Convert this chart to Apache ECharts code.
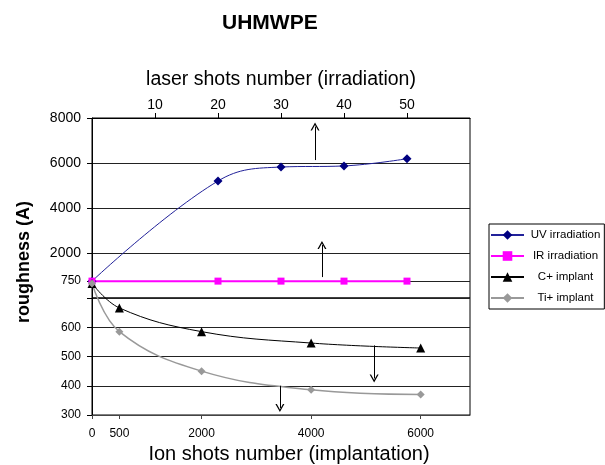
<!DOCTYPE html>
<html><head><meta charset="utf-8">
<script src="https://cdn.jsdelivr.net/npm/echarts@6/dist/echarts.min.js"></script>
<style>html,body{margin:0;padding:0;background:#fff}#c{width:605px;height:465px}</style>
</head><body><div id="c"></div>
<script>
const chartTitle = 'UHMWPE';
const seriesNames = ['UV irradiation', 'IR irradiation', 'C+ implant', 'Ti+ implant'];
const laserShots = [0, 20, 30, 40, 50];
const uvRoughness = [750, 5200, 5820, 5870, 6190];
const irRoughness = [750, 750, 750, 750, 750];
const ionShots = [0, 500, 2000, 4000, 6000];
const cRoughness = [750, 666, 585, 546, 529];
const tiRoughness = [750, 585, 450, 386, 370];
const laserTicks = [10, 20, 30, 40, 50];
const upperYTicks = [750, 2000, 4000, 6000, 8000];
const lowerYTicks = [300, 400, 500, 600];
const ionTicks = [0, 500, 2000, 4000, 6000];
// arrow annotations in data coordinates [start, end]
const uvArrow = [[35.4, 6130], [35.4, 7620]];
const irArrow = [[36.5, 930], [36.5, 2355]];
const cArrow = [[5150, 538], [5150, 425]];
const tiArrow = [[3430, 400], [3430, 324]];

const FONT = '"Liberation Sans", Arial, sans-serif';
const zip = (xs, ys) => xs.map((x, i) => [x, ys[i]]);
const arrowPath = 'path://M0,0 L5,10 L3.4,10 L0,3 L-3.4,10 L-5,10 Z';
function arrow(a) {
  return {
    silent: true, animation: false,
    symbol: ['none', arrowPath], symbolSize: [9, 8],
    label: {show: false},
    lineStyle: {color: '#000', width: 1, type: 'solid'},
    emphasis: {disabled: true},
    data: [[{coord: a[0]}, {coord: a[1]}]]
  };
}
const black = {color: '#000'};
const chart = echarts.init(document.getElementById('c'));
chart.setOption({
  animation: false,
  backgroundColor: '#fff',
  textStyle: {fontFamily: FONT, color: '#000'},
  title: {text: chartTitle, left: 222, top: 13, padding: 0,
    textStyle: {fontSize: 21, fontWeight: 'bold', color: '#000', fontFamily: FONT}},
  graphic: [{type: 'text', x: 24, y: 262, rotation: Math.PI / 2,
    style: {text: 'roughness (A)', font: 'bold 18px ' + FONT, fill: '#000', textAlign: 'center', textVerticalAlign: 'middle'}}],
  legend: {
    data: seriesNames, orient: 'vertical', left: 489, top: 224,
    itemWidth: 33, itemHeight: 12, itemGap: 9, padding: [5, 4, 5, 1],
    borderColor: '#000', borderWidth: 1,
    formatter: n => '{a|' + n + '}',
    textStyle: {rich: {a: {width: 73, align: 'center', fontSize: 11.5, color: '#000', fontFamily: FONT}}}
  },
  grid: [
    {left: 92, top: 118, width: 378, height: 180, show: true, borderColor: '#000', borderWidth: 1},
    {left: 92, top: 298, width: 378, height: 117, show: true, borderColor: '#000', borderWidth: 1}
  ],
  xAxis: [
    {gridIndex: 0, type: 'value', position: 'top', min: 0, max: 60, interval: 10,
      name: 'laser shots number (irradiation)', nameLocation: 'middle', nameGap: 28,
      nameTextStyle: {fontSize: 19.5, color: '#000', fontFamily: FONT},
      axisLine: {show: true, onZero: false, lineStyle: black},
      axisTick: {show: true, length: 5, customValues: laserTicks, lineStyle: black},
      axisLabel: {customValues: laserTicks, fontSize: 14, color: '#000', margin: 6},
      splitLine: {show: false}},
    {gridIndex: 1, type: 'value', position: 'bottom', min: 0, max: 6900,
      name: 'Ion shots number (implantation)', nameLocation: 'middle', nameGap: 29,
      nameTextStyle: {fontSize: 20, color: '#000', fontFamily: FONT, padding: [0, 0, 0, 16]},
      axisLine: {show: true, onZero: false, lineStyle: {color: '#444'}},
      axisTick: {show: true, length: 4, customValues: ionTicks, lineStyle: {color: '#444'}},
      axisLabel: {customValues: ionTicks, fontSize: 12, color: '#000', margin: 13,
        formatter: v => String(v)},
      splitLine: {show: false}}
  ],
  yAxis: [
    {gridIndex: 0, type: 'value', min: 0, max: 8000, interval: 2000,
      axisLine: {show: true, onZero: false, lineStyle: black},
      axisTick: {show: true, length: 5, customValues: upperYTicks, lineStyle: black},
      axisLabel: {customValues: upperYTicks, margin: 11,
        formatter: v => v === 750 ? '{s|750}' : '{b|' + v + '}',
        rich: {s: {fontSize: 12, color: '#000'}, b: {fontSize: 14, color: '#000'}}},
      splitLine: {show: true, lineStyle: {color: '#222', width: 1}}},
    {gridIndex: 1, type: 'value', min: 300, max: 700, interval: 100,
      axisLine: {show: true, onZero: false, lineStyle: black},
      axisTick: {show: true, length: 5, lineStyle: black},
      axisLabel: {fontSize: 12, color: '#000', margin: 11,
        formatter: v => lowerYTicks.includes(v) ? String(v) : ''},
      splitLine: {show: true, lineStyle: {color: '#222', width: 1}}}
  ],
  series: [
    {name: seriesNames[0], type: 'line', xAxisIndex: 0, yAxisIndex: 0,
      data: zip(laserShots, uvRoughness), smooth: 0.4,
      symbol: 'diamond', symbolSize: 9, itemStyle: {color: '#000080'},
      lineStyle: {width: 1, color: '#22229a'}, markLine: arrow(uvArrow)},
    {name: seriesNames[1], type: 'line', xAxisIndex: 0, yAxisIndex: 0,
      data: zip(laserShots, irRoughness),
      symbol: 'rect', symbolSize: 7, itemStyle: {color: '#ff00ff'},
      lineStyle: {width: 2, color: '#ff00ff'}, markLine: arrow(irArrow)},
    {name: seriesNames[2], type: 'line', xAxisIndex: 1, yAxisIndex: 1, clip: false,
      data: zip(ionShots, cRoughness), smooth: 0.4,
      symbol: 'triangle', symbolSize: 9, itemStyle: {color: '#000'},
      lineStyle: {width: 1, color: '#000'}, markLine: arrow(cArrow)},
    {name: seriesNames[3], type: 'line', xAxisIndex: 1, yAxisIndex: 1, clip: false,
      data: zip(ionShots, tiRoughness), smooth: 0.4,
      symbol: 'diamond', symbolSize: 8, itemStyle: {color: '#999'},
      lineStyle: {width: 1.5, color: '#999'}, markLine: arrow(tiArrow)}
  ]
});
</script></body></html>
